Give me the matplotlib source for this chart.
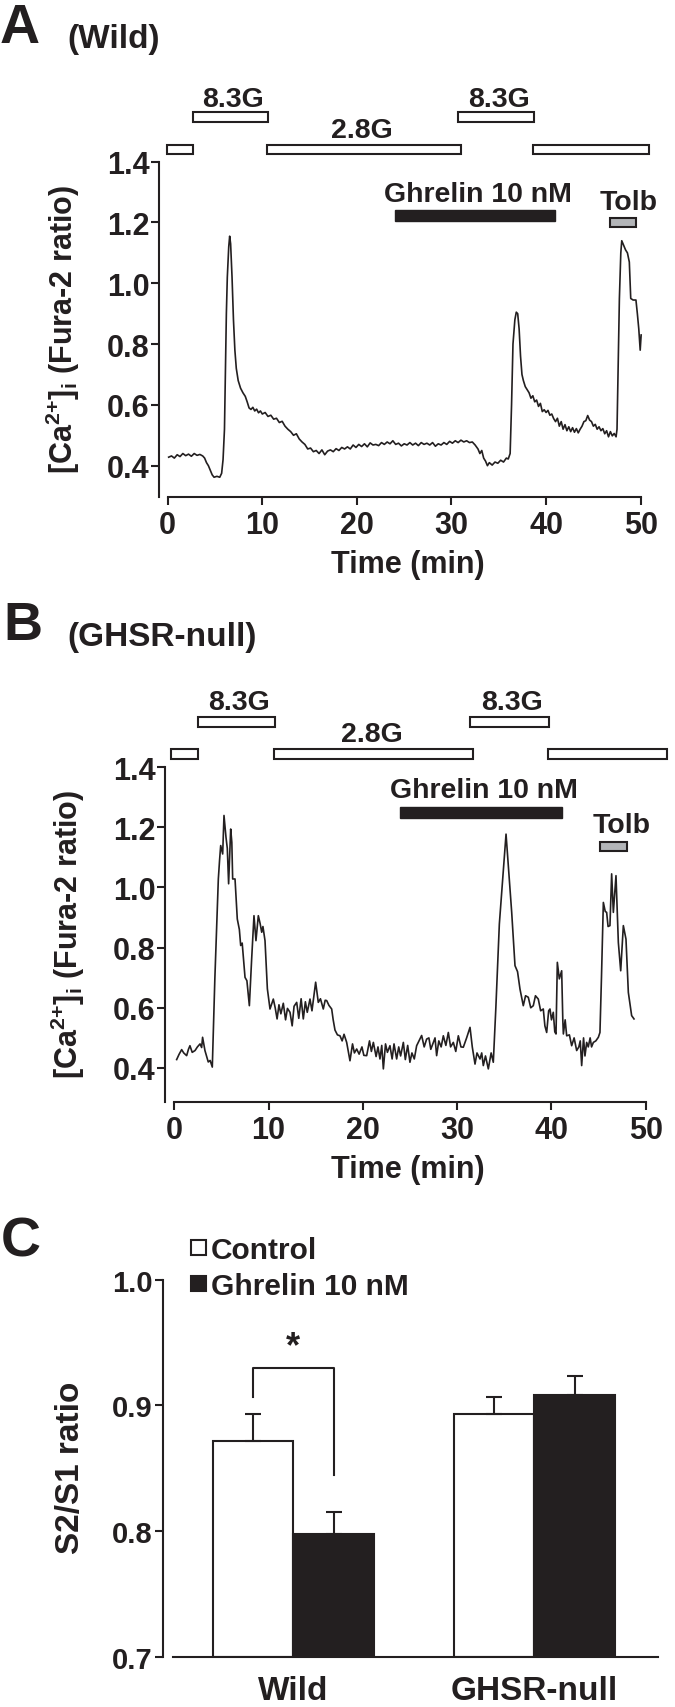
import matplotlib
matplotlib.use("Agg")
import matplotlib.pyplot as plt
from matplotlib.patches import Rectangle

plt.rcParams['font.family'] = ['Liberation Sans', 'DejaVu Sans']
plt.rcParams['font.weight'] = 'bold'
plt.rcParams['axes.labelweight'] = 'bold'
plt.rcParams['mathtext.fontset'] = 'custom'
plt.rcParams['mathtext.rm'] = 'Liberation Sans:bold'
plt.rcParams['mathtext.bf'] = 'Liberation Sans:bold'
plt.rcParams['mathtext.it'] = 'Liberation Sans:bold'

INK = '#231f20'
GREY = '#b3b5b8'

# ---- panel A : wild type trace (time in min, fura-2 ratio)
wild_time = [0.1, 0.4, 0.7, 1.0, 1.3, 1.6, 1.9, 2.2, 2.5, 2.8, 3.1, 3.4, 3.7, 3.9, 4.1, 4.3, 4.5, 4.7, 4.9, 5.2,
             5.5, 5.7, 5.85, 6.0, 6.1, 6.2, 6.3, 6.45, 6.55, 6.65, 6.8, 6.95, 7.1, 7.25, 7.45, 7.7, 7.95, 8.2, 8.4, 8.6,
             8.8, 9.0, 9.2, 9.4, 9.6, 9.8, 10.0, 10.3, 10.6, 10.9, 11.2, 11.5, 11.8, 12.1, 12.4, 12.7, 13.0, 13.3, 13.6, 13.9,
             14.2, 14.5, 14.8, 15.1, 15.4, 15.7, 16.0, 16.3, 16.6, 16.9, 17.2, 17.5, 17.8, 18.1, 18.4, 18.7, 19.0, 19.3, 19.6, 19.9,
             20.2, 20.5, 20.8, 21.1, 21.4, 21.7, 22.0, 22.3, 22.6, 22.9, 23.2, 23.5, 23.8, 24.1, 24.4, 24.7, 25.0, 25.3, 25.6, 25.9,
             26.2, 26.5, 26.8, 27.1, 27.4, 27.7, 28.0, 28.3, 28.6, 28.9, 29.2, 29.5, 29.8, 30.1, 30.4, 30.7, 31.0, 31.3, 31.6, 31.9,
             32.2, 32.5, 32.8, 33.0, 33.2, 33.4, 33.6, 33.8, 34.0, 34.3, 34.6, 34.9, 35.2, 35.5, 35.8, 36.0, 36.2, 36.35, 36.5, 36.7,
             36.85, 37.0, 37.15, 37.3, 37.45, 37.6, 37.8, 38.0, 38.2, 38.4, 38.6, 38.8, 39.0, 39.2, 39.4, 39.6, 39.8, 40.0, 40.2, 40.4,
             40.6, 40.8, 41.0, 41.2, 41.4, 41.6, 41.8, 42.0, 42.2, 42.4, 42.6, 42.8, 43.0, 43.2, 43.4, 43.6, 43.8, 44.0, 44.2, 44.4,
             44.6, 44.8, 45.0, 45.2, 45.4, 45.6, 45.8, 46.0, 46.2, 46.4, 46.6, 46.8, 47.0, 47.2, 47.4, 47.5, 47.6, 47.75, 47.9, 48.0,
             48.2, 48.4, 48.6, 48.8, 48.95, 49.2, 49.5, 49.65, 49.8, 49.95, 50.05]
wild_ratio = [0.428, 0.432, 0.425, 0.436, 0.430, 0.440, 0.433, 0.438, 0.431, 0.440, 0.434, 0.437, 0.432, 0.425, 0.410, 0.400, 0.385, 0.370, 0.362, 0.365,
              0.362, 0.375, 0.420, 0.520, 0.700, 0.900, 1.020, 1.120, 1.155, 1.130, 1.020, 0.880, 0.780, 0.720, 0.680, 0.655, 0.640, 0.628, 0.610, 0.590,
              0.585, 0.592, 0.580, 0.586, 0.574, 0.580, 0.570, 0.575, 0.562, 0.566, 0.553, 0.556, 0.542, 0.546, 0.530, 0.520, 0.512, 0.500, 0.505, 0.488,
              0.478, 0.470, 0.455, 0.458, 0.446, 0.450, 0.440, 0.452, 0.436, 0.448, 0.452, 0.446, 0.456, 0.450, 0.460, 0.455, 0.462, 0.455, 0.468, 0.460,
              0.470, 0.463, 0.472, 0.462, 0.475, 0.468, 0.470, 0.466, 0.476, 0.470, 0.478, 0.472, 0.482, 0.470, 0.474, 0.465, 0.472, 0.468, 0.476, 0.468,
              0.474, 0.466, 0.476, 0.470, 0.474, 0.468, 0.476, 0.464, 0.472, 0.468, 0.476, 0.470, 0.480, 0.474, 0.482, 0.476, 0.484, 0.478, 0.482, 0.476,
              0.478, 0.468, 0.455, 0.440, 0.450, 0.425, 0.415, 0.400, 0.410, 0.402, 0.412, 0.408, 0.418, 0.412, 0.425, 0.422, 0.440, 0.600, 0.800, 0.880,
              0.905, 0.900, 0.850, 0.760, 0.700, 0.680, 0.660, 0.650, 0.640, 0.622, 0.630, 0.610, 0.616, 0.595, 0.605, 0.578, 0.584, 0.575, 0.582, 0.566,
              0.570, 0.555, 0.545, 0.556, 0.530, 0.545, 0.520, 0.535, 0.515, 0.528, 0.512, 0.525, 0.510, 0.522, 0.508, 0.520, 0.530, 0.545, 0.548, 0.565,
              0.550, 0.545, 0.530, 0.536, 0.520, 0.528, 0.515, 0.522, 0.505, 0.515, 0.495, 0.512, 0.498, 0.506, 0.495, 0.520, 0.700, 0.950, 1.100, 1.140,
              1.125, 1.110, 1.100, 1.070, 0.950, 0.945, 0.945, 0.900, 0.850, 0.780, 0.830]

# ---- panel B : GHSR-null trace
null_time = [0.25, 0.5, 0.78, 1.0, 1.31, 1.5, 1.66, 1.9, 2.2, 2.45, 2.73, 2.9, 3.0, 3.25, 3.6, 3.8, 4.03, 4.3, 4.67, 4.8,
             4.92, 5.13, 5.27, 5.48, 5.62, 5.76, 5.98, 6.1, 6.19, 6.44, 6.68, 6.9, 7.04, 7.2, 7.5, 7.7, 7.96, 8.2, 8.45, 8.66,
             8.91, 9.1, 9.27, 9.4, 9.62, 9.87, 10.15, 10.5, 10.7, 10.9, 11.1, 11.3, 11.56, 11.8, 12.0, 12.27, 12.5, 12.7, 12.98, 13.2,
             13.45, 13.68, 13.9, 14.1, 14.39, 14.6, 14.8, 14.99, 15.27, 15.5, 15.8, 16.0, 16.16, 16.4, 16.69, 16.85, 17.04, 17.3, 17.57, 17.8,
             18.0, 18.28, 18.63, 18.9, 19.1, 19.34, 19.6, 19.9, 20.1, 20.4, 20.7, 20.9, 21.11, 21.4, 21.6, 21.81, 22.0, 22.17, 22.4, 22.6,
             22.87, 23.1, 23.3, 23.58, 23.8, 24.0, 24.29, 24.5, 24.75, 24.99, 25.2, 25.45, 25.7, 25.95, 26.23, 26.5, 26.76, 27.0, 27.2, 27.47,
             27.65, 27.82, 28.05, 28.3, 28.53, 28.8, 29.06, 29.3, 29.59, 29.85, 30.12, 30.4, 30.65, 31.0, 31.36, 31.6, 31.89, 32.1, 32.42, 32.6,
             32.77, 33.0, 33.3, 33.6, 33.83, 34.1, 34.47, 35.18, 35.78, 36.13, 36.4, 36.66, 37.01, 37.25, 37.54, 37.8, 38.07, 38.3, 38.6, 38.85,
             39.13, 39.3, 39.49, 39.7, 39.84, 40.0, 40.19, 40.35, 40.48, 40.62, 40.83, 41.08, 41.2, 41.26, 41.45, 41.61, 41.9, 42.14, 42.4, 42.67,
             42.9, 43.05, 43.2, 43.4, 43.55, 43.73, 43.9, 44.1, 44.25, 44.44, 44.7, 44.97, 45.14, 45.3, 45.5, 45.7, 45.85, 46.0, 46.2, 46.38,
             46.56, 46.84, 47.09, 47.34, 47.62, 47.9, 48.15, 48.5, 48.75]
null_ratio = [0.428, 0.445, 0.461, 0.450, 0.441, 0.462, 0.474, 0.452, 0.458, 0.470, 0.480, 0.468, 0.502, 0.458, 0.420, 0.425, 0.403, 0.696, 1.028, 1.090,
              1.139, 1.111, 1.239, 1.167, 1.130, 1.012, 1.194, 1.150, 1.028, 1.028, 0.895, 0.860, 0.807, 0.815, 0.701, 0.690, 0.607, 0.760, 0.906, 0.823,
              0.906, 0.880, 0.851, 0.870, 0.823, 0.663, 0.596, 0.629, 0.600, 0.563, 0.610, 0.580, 0.615, 0.560, 0.598, 0.585, 0.540, 0.605, 0.618, 0.565,
              0.630, 0.563, 0.620, 0.585, 0.629, 0.590, 0.640, 0.685, 0.618, 0.630, 0.596, 0.625, 0.624, 0.608, 0.596, 0.560, 0.526, 0.510, 0.507, 0.490,
              0.512, 0.485, 0.424, 0.480, 0.450, 0.463, 0.446, 0.470, 0.442, 0.441, 0.490, 0.455, 0.485, 0.438, 0.470, 0.430, 0.475, 0.397, 0.480, 0.452,
              0.474, 0.430, 0.480, 0.430, 0.470, 0.440, 0.485, 0.428, 0.475, 0.419, 0.450, 0.430, 0.474, 0.490, 0.508, 0.470, 0.496, 0.500, 0.462, 0.485,
              0.500, 0.441, 0.490, 0.470, 0.507, 0.475, 0.518, 0.470, 0.485, 0.455, 0.507, 0.470, 0.469, 0.500, 0.535, 0.470, 0.413, 0.450, 0.430, 0.450,
              0.408, 0.440, 0.397, 0.450, 0.419, 0.600, 0.878, 1.177, 0.917, 0.740, 0.720, 0.662, 0.607, 0.640, 0.635, 0.600, 0.607, 0.640, 0.629, 0.590,
              0.596, 0.540, 0.518, 0.590, 0.596, 0.560, 0.585, 0.520, 0.513, 0.751, 0.696, 0.723, 0.560, 0.513, 0.560, 0.507, 0.510, 0.474, 0.500, 0.458,
              0.470, 0.490, 0.408, 0.500, 0.440, 0.485, 0.470, 0.500, 0.470, 0.485, 0.490, 0.502, 0.518, 0.700, 0.950, 0.920, 0.917, 0.870, 0.873, 1.045,
              0.917, 1.039, 0.817, 0.723, 0.873, 0.828, 0.651, 0.574, 0.563]

# ---- perfusion protocol (min)
glucose_conc = ['2.8G', '8.3G', '2.8G', '8.3G', '2.8G']
wild_glucose_start = [-0.1, 2.7, 10.5, 30.7, 38.65]
wild_glucose_end = [2.7, 10.6, 31.0, 38.7, 50.9]
wild_ghrelin = [24.0, 40.9]
wild_tolb = [46.8, 49.5]
null_glucose_start = [-0.4, 2.5, 10.6, 31.4, 39.6]
null_glucose_end = [2.5, 10.7, 31.7, 39.7, 52.2]
null_ghrelin = [23.9, 41.1]
null_tolb = [45.1, 48.0]

time_ticks = [0, 10, 20, 30, 40, 50]
ratio_ticks = [0.4, 0.6, 0.8, 1.0, 1.2, 1.4]

# ---- panel C : S2/S1 ratio
groups = ['Wild', 'GHSR-null']
series = ['Control', 'Ghrelin 10 nM']
control_mean = [0.872, 0.893]
control_sem = [0.021, 0.014]
ghrelin_mean = [0.798, 0.908]
ghrelin_sem = [0.017, 0.015]
bracket_levels = [0.9064, 0.9294, 0.8446]
s_ticks = [0.7, 0.8, 0.9, 1.0]

W, H = 675, 1708
fig = plt.figure(figsize=(W / 100, H / 100), dpi=100)


def axes_px(left, right, top, bottom):
    return fig.add_axes([left / W, 1 - bottom / H, (right - left) / W, (bottom - top) / H])


def style(ax, xb, yb):
    for s in ['top', 'right']:
        ax.spines[s].set_visible(False)
    for s in ['left', 'bottom']:
        ax.spines[s].set_linewidth(1.5)
        ax.spines[s].set_color(INK)
    ax.spines['bottom'].set_bounds(*xb)
    ax.spines['left'].set_bounds(*yb)
    ax.tick_params(direction='out', length=5.5, width=1.5, color=INK, labelcolor=INK)


def trace_panel(ax, t, r, g0, g1, ghr, tolb, lv, xmin, ymin, tolb_dx):
    ax.set_xlim(xmin, 50.5)
    ax.set_ylim(ymin, 1.4)
    style(ax, (0, 50), (ymin, 1.4))
    ax.plot(t, r, color=INK, lw=1.2)
    ax.set_xticks(time_ticks)
    ax.set_yticks(ratio_ticks)
    ax.set_yticklabels(['%.1f' % v for v in ratio_ticks])
    ax.tick_params(axis='both', labelsize=22)
    ax.tick_params(axis='x', pad=4)
    ax.tick_params(axis='y', pad=1.5)
    hb = 0.032
    for c, s, e in zip(glucose_conc, g0, g1):
        y = lv['hi'] if c == '8.3G' else lv['lo']
        ax.add_patch(Rectangle((s, y - hb / 2), e - s, hb, fc='white', ec=INK, lw=1.5, clip_on=False))
        if c == '8.3G':
            ax.text((s + e) / 2 + 0.3, lv['hi_txt'], c, ha='center', va='center_baseline', fontsize=20.5, color=INK)
    ax.text((g0[2] + g1[2]) / 2 - 0.25, lv['lo_txt'], glucose_conc[2], ha='center', va='center_baseline',
            fontsize=20.5, color=INK)
    ax.add_patch(Rectangle((ghr[0], lv['ghr'] - 0.0175), ghr[1] - ghr[0], 0.035, fc=INK, ec=INK, lw=1, clip_on=False))
    ax.text((ghr[0] + ghr[1]) / 2 + 0.3, lv['ghr_txt'], 'Ghrelin 10 nM', ha='center', va='center_baseline',
            fontsize=20.5, color=INK)
    ax.add_patch(Rectangle((tolb[0], lv['tolb'] - 0.015), tolb[1] - tolb[0], 0.03, fc=GREY, ec=INK, lw=1.5, clip_on=False))
    ax.text((tolb[0] + tolb[1]) / 2 + tolb_dx, lv['tolb_txt'], 'Tolb', ha='center', va='center_baseline',
            fontsize=20.5, color=INK)


# panel A
axA = axes_px(159.3, 645.4, 162.7, 498.3)
trace_panel(axA, wild_time, wild_ratio, wild_glucose_start, wild_glucose_end, wild_ghrelin, wild_tolb,
            dict(hi=1.546, lo=1.44, hi_txt=1.617, lo_txt=1.513, ghr=1.222, ghr_txt=1.305, tolb=1.199, tolb_txt=1.277),
            -0.89, 0.296, 0.55)
axA.set_xlabel('Time (min)', fontsize=22, color=INK, fontweight='bold')
axA.xaxis.set_label_coords((408 - 159.3) / (645.4 - 159.3), -(550 - 498.3) / (498.3 - 162.7))

# panel B
axB = axes_px(165, 650.5, 768, 1103)
trace_panel(axB, null_time, null_ratio, null_glucose_start, null_glucose_end, null_ghrelin, null_tolb,
            dict(hi=1.550, lo=1.443, hi_txt=1.626, lo_txt=1.521, ghr=1.248, ghr_txt=1.333, tolb=1.137, tolb_txt=1.216),
            -0.986, 0.287, 0.85)
axB.set_xlabel('Time (min)', fontsize=22, color=INK, fontweight='bold')
axB.xaxis.set_label_coords((408 - 165) / (650.5 - 165), -(1155 - 1103) / (1103 - 768))

ylab = r'[Ca$^{2{+}}$]$_{i}$ (Fura-2 ratio)'
fig.text(63 / W, 1 - 330 / H, ylab, rotation=90, ha='center', va='center', fontsize=22, color=INK)
fig.text(68 / W, 1 - 935 / H, ylab, rotation=90, ha='center', va='center', fontsize=22, color=INK)

# panel C
axC = axes_px(162.7, 658, 1280.7, 1657.7)
axC.set_xlim(-0.542, 1.513)
axC.set_ylim(0.7, 1.0)
style(axC, (-0.498, 1.513), (0.7, 1.0))
bw = 0.335
xs = list(range(len(groups)))
axC.bar([x - bw / 2 for x in xs], [m - 0.7 for m in control_mean], bw, bottom=0.7, color='white', edgecolor=INK, lw=1.5)
axC.bar([x + bw / 2 for x in xs], [m - 0.7 for m in ghrelin_mean], bw, bottom=0.7, color=INK, edgecolor=INK, lw=1.5)
axC.errorbar([x - bw / 2 for x in xs], control_mean, yerr=[[0] * 2, control_sem], fmt='none', ecolor=INK,
             elinewidth=1.5, capsize=5.5, capthick=1.5)
axC.errorbar([x + bw / 2 for x in xs], ghrelin_mean, yerr=[[0] * 2, ghrelin_sem], fmt='none', ecolor=INK,
             elinewidth=1.5, capsize=5.5, capthick=1.5)
axC.plot([-bw / 2, -bw / 2, bw / 2, bw / 2], [bracket_levels[0], bracket_levels[1], bracket_levels[1], bracket_levels[2]],
         color=INK, lw=1.5)
axC.text(0, 0.947, '*', ha='center', va='center', fontsize=26, color=INK)
axC.set_yticks(s_ticks)
axC.set_yticklabels(['%.1f' % v for v in s_ticks])
axC.tick_params(axis='y', labelsize=21, pad=1.5)
axC.set_xticks(xs)
axC.set_xticklabels(groups)
axC.tick_params(axis='x', length=0, labelsize=24, pad=13)
fig.text(70 / W, 1 - 1468 / H, 'S2/S1 ratio', rotation=90, ha='center', va='center', fontsize=24, color=INK)

# legend of panel C
for name, fc, yc in zip(series, ['white', INK], [1248.5, 1284]):
    fig.patches.append(Rectangle((191 / W, 1 - (yc + 7.5) / H), 15 / W, 15 / H, transform=fig.transFigure,
                                 fc=fc, ec=INK, lw=1.5))
    fig.text(211 / W, 1 - yc / H, name, ha='left', va='center_baseline', fontsize=21.5, color=INK)

# panel letters
fig.text(0 / W, 1 - 43 / H, 'A', fontsize=40, ha='left', va='baseline', color=INK)
fig.text(67 / W, 1 - 48 / H, '(Wild)', fontsize=24, ha='left', va='baseline', color=INK)
fig.text(3 / W, 1 - 640 / H, 'B', fontsize=39, ha='left', va='baseline', color=INK)
fig.text(67 / W, 1 - 646 / H, '(GHSR-null)', fontsize=24, ha='left', va='baseline', color=INK)
fig.text(1 / W, 1 - 1257 / H, 'C', fontsize=40, ha='left', va='baseline', color=INK)

fig.savefig('out.png', dpi=100)
